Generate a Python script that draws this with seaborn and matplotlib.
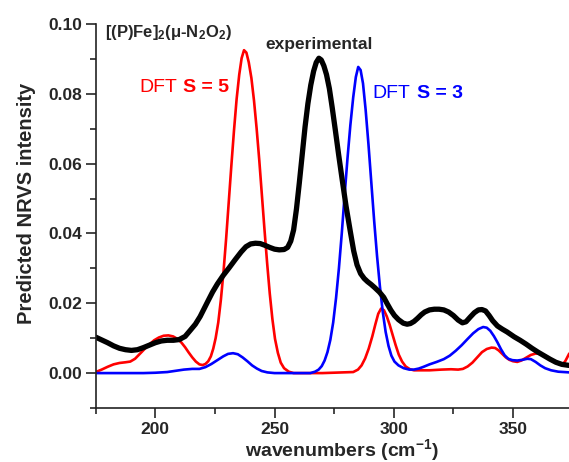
import numpy as np
import pandas as pd
import matplotlib
matplotlib.use("Agg")
import matplotlib.pyplot as plt
from matplotlib.ticker import MultipleLocator, FormatStrFormatter
import seaborn as sns

# ---- data ----
exp_x = [175, 177.5, 180, 182.5, 185, 187.5, 190, 192.5, 195, 197.5, 200, 202.5, 205,
         207.6, 210, 212.5, 214.6, 216.8, 218.8, 220.5, 222.2, 224, 226, 228.5, 231,
         233.5, 236, 238, 240, 242, 244, 246, 248, 250, 252, 254, 255.5, 256.8, 258,
         259.2, 260.4, 261.6, 262.8, 264, 265.2, 266.4, 267.5, 268.6, 269.6, 270.7, 271.8,
         273, 274.2, 275.5, 276.9, 278.4, 280, 281.8, 283.2, 284.6, 286.1, 287.6, 289,
         290.5, 292, 294, 295.8, 297.3, 298.8, 300.3, 302, 304, 305.6, 307, 308.5, 310,
         311.5, 313, 315, 317, 319, 321, 323, 325, 327, 328.8, 330.3, 332, 333.8, 335.5,
         337, 338.5, 340, 341.5, 343.5, 345.5, 347.5, 350.5, 353, 355.5, 358, 360.5, 363,
         365.5, 368, 370.5, 373.5]
exp_y = [0.0103, 0.0095, 0.0087, 0.0078, 0.0071, 0.0067, 0.0065, 0.0067, 0.0073, 0.0080,
         0.0087, 0.0092, 0.0094, 0.0094, 0.0096, 0.0105, 0.0122, 0.0140, 0.0162, 0.0185,
         0.0208, 0.0232, 0.0255, 0.0280, 0.0302, 0.0325, 0.0347, 0.0362, 0.0370, 0.0372,
         0.0371, 0.0366, 0.0360, 0.0355, 0.0353, 0.0354, 0.0360, 0.0378, 0.0410, 0.0470,
         0.0545, 0.0625, 0.0705, 0.0772, 0.0825, 0.0865, 0.0890, 0.0902, 0.0897, 0.0880,
         0.0855, 0.0815, 0.0760, 0.0696, 0.0625, 0.0553, 0.0478, 0.0405, 0.0350, 0.0310,
         0.0285, 0.0271, 0.0262, 0.0254, 0.0245, 0.0232, 0.0217, 0.0198, 0.0180, 0.0165,
         0.0153, 0.0143, 0.0140, 0.0142, 0.0148, 0.0157, 0.0167, 0.0175, 0.0181, 0.0183,
         0.0183, 0.0181, 0.0175, 0.0165, 0.0152, 0.0144, 0.0147, 0.0160, 0.0173, 0.0181,
         0.0182, 0.0178, 0.0165, 0.0150, 0.0135, 0.0126, 0.0118, 0.0104, 0.0094, 0.0083,
         0.0071, 0.0060, 0.0050, 0.0040, 0.0031, 0.0025, 0.0022]

s5_x = [175, 177.5, 180, 182.5, 185, 187.5, 189.5, 191.5, 193.5, 195.5, 197.5, 199.5,
        201.5, 203.5, 205.5, 207.5, 209.5, 211, 212.5, 214, 215.5, 217, 218.5, 219.8, 221,
        222.2, 223.3, 224.3, 225.3, 226.4, 227.5, 228.6, 229.7, 230.8, 231.9, 233, 234.1,
        235.2, 236.2, 237.2, 238.2, 239.2, 240.3, 241.4, 242.5, 243.6, 244.7, 245.8, 246.9,
        248, 249.1, 250.2, 251.4, 252.6, 254, 256, 258, 270, 283, 285, 286.5, 288, 289.5,
        291, 292.3, 293.5, 294.7, 295.9, 297.1, 298.3, 299.5, 300.8, 302.1, 303.5, 305,
        306.8, 308.5, 315, 320, 324, 327, 329, 331, 333, 335, 337, 339, 341, 342.5, 344,
        345.5, 347, 348.5, 350, 351.8, 353.5, 355.5, 357.5, 359.5, 361.5, 363.5, 365.5,
        367.5, 369.5, 370.8, 372, 373.6]
s5_y = [0.0003, 0.0010, 0.0018, 0.0025, 0.0029, 0.0031, 0.0033, 0.0041, 0.0055, 0.0069,
        0.0082, 0.0094, 0.0102, 0.0107, 0.0108, 0.0105, 0.0097, 0.0087, 0.0074, 0.0059,
        0.0045, 0.0033, 0.0025, 0.0023, 0.0026, 0.0034, 0.0048, 0.0070, 0.0100, 0.0145,
        0.0210, 0.0290, 0.0385, 0.0490, 0.0595, 0.0695, 0.0785, 0.0855, 0.0902, 0.0925,
        0.0918, 0.0890, 0.0845, 0.0780, 0.0700, 0.0610, 0.0510, 0.0410, 0.0315, 0.0228,
        0.0155, 0.0098, 0.0058, 0.0030, 0.0014, 0.0004, 0.0, 0.0, 0.0003, 0.0010, 0.0022,
        0.0042, 0.0070, 0.0105, 0.0140, 0.0170, 0.0185, 0.0180, 0.0162, 0.0138, 0.0110,
        0.0080, 0.0053, 0.0033, 0.0019, 0.0011, 0.0008, 0.0008, 0.0010, 0.0011, 0.0010,
        0.0012, 0.0019, 0.0030, 0.0045, 0.0060, 0.0069, 0.0073, 0.0072, 0.0065, 0.0055,
        0.0045, 0.0038, 0.0034, 0.0032, 0.0036, 0.0044, 0.0052, 0.0056, 0.0055, 0.0050,
        0.0042, 0.0032, 0.0025, 0.0024, 0.0035, 0.0056]

s3_x = [175, 195, 200, 205, 209, 212, 215.5, 218.5, 221, 223.5, 226, 228.5, 230.5, 232.6,
        234.6, 236.6, 238.6, 240.6, 242.6, 244.6, 247, 250, 265, 267, 268.5, 269.8, 271,
        272.2, 273.4, 274.6, 275.8, 277, 278.2, 279.4, 280.6, 281.8, 283, 284.1, 285.1,
        286.1, 287.1, 288.2, 289.4, 290.6, 291.8, 293, 294.2, 295.4, 296.6, 297.8, 299,
        300.3, 302, 304.2, 306.5, 308.4, 310.5, 312.5, 315, 318, 321, 323.5, 326, 328.5,
        331, 333.3, 335.5, 337.5, 339, 340.5, 342, 343.5, 345, 346.5, 348, 349.8, 351.8,
        354, 356, 357.5, 359.5, 361.5, 363.5, 366, 369, 373.6]
s3_y = [0.0, 0.0, 0.0001, 0.0003, 0.0007, 0.0010, 0.0012, 0.0012, 0.0017, 0.0026, 0.0037,
        0.0048, 0.0055, 0.0057, 0.0054, 0.0045, 0.0034, 0.0022, 0.0013, 0.0006, 0.0002,
        0.0, 0.0, 0.0004, 0.0010, 0.0020, 0.0036, 0.0060, 0.0095, 0.0145, 0.0215, 0.0300,
        0.0400, 0.0510, 0.0615, 0.0710, 0.0790, 0.0848, 0.0877, 0.0868, 0.0830, 0.0755,
        0.0655, 0.0545, 0.0435, 0.0335, 0.0248, 0.0175, 0.0118, 0.0078, 0.0050, 0.0033,
        0.0022, 0.0014, 0.0010, 0.0010, 0.0013, 0.0018, 0.0025, 0.0032, 0.0040, 0.0050,
        0.0064, 0.0080, 0.0098, 0.0114, 0.0126, 0.0132, 0.0130, 0.0121, 0.0106, 0.0088,
        0.0068, 0.0051, 0.0041, 0.0037, 0.0036, 0.0038, 0.0041, 0.0040, 0.0032, 0.0022,
        0.0014, 0.0008, 0.0004, 0.0002]

xticks = [200, 250, 300, 350]
yticks = [0.00, 0.02, 0.04, 0.06, 0.08, 0.10]

# ---- style ----
sns.set_style("ticks")
plt.rcParams['font.family'] = ['Liberation Sans', 'DejaVu Sans']
plt.rcParams['font.weight'] = 'bold'
plt.rcParams['mathtext.fontset'] = 'custom'
plt.rcParams['mathtext.rm'] = 'Liberation Sans:bold'
plt.rcParams['mathtext.bf'] = 'Liberation Sans:bold'
plt.rcParams['mathtext.it'] = 'Liberation Sans:bold'

W, H = 569, 462
fig = plt.figure(figsize=(W / 100, H / 100), dpi=100)
ax = fig.add_axes([95.7 / W, 1 - 408 / H, (W - 95.7) / W, (408 - 24) / H])

df_exp = pd.DataFrame({"x": exp_x, "y": exp_y})
df_s5 = pd.DataFrame({"x": s5_x, "y": s5_y})
df_s3 = pd.DataFrame({"x": s3_x, "y": s3_y})

kw = dict(sort=False, solid_joinstyle='round', solid_capstyle='round')
sns.lineplot(data=df_s5, x="x", y="y", ax=ax, color="#ff0000", linewidth=1.9, **kw)
sns.lineplot(data=df_s3, x="x", y="y", ax=ax, color="#0000ff", linewidth=1.9, **kw)
sns.lineplot(data=df_exp, x="x", y="y", ax=ax, color="black", linewidth=3.8, **kw)

ax.set_xlim(175, 373.5)
ax.set_ylim(-0.01, 0.10)
ax.set_xticks(xticks)
ax.set_yticks(yticks)
ax.xaxis.set_minor_locator(MultipleLocator(25))
ax.yaxis.set_minor_locator(MultipleLocator(0.01))
ax.yaxis.set_major_formatter(FormatStrFormatter('%.2f'))
ax.tick_params(which='major', length=7, width=1.2, labelsize=12.5, pad=3, direction='out')
ax.tick_params(which='minor', length=4.5, width=1.2, direction='out')
for lab in ax.get_xticklabels() + ax.get_yticklabels():
    lab.set_fontweight('bold')
for s in ['left', 'bottom']:
    ax.spines[s].set_linewidth(1.2)
    ax.spines[s].set_color('#222222')
sns.despine(ax=ax)

ax.set_xlabel(r"wavenumbers (cm$^{\mathbf{-1}}$)", fontsize=14, fontweight='bold')
ax.set_ylabel("Predicted NRVS intensity", fontsize=14.5, fontweight='bold')
ax.xaxis.set_label_coords((342 - 95.7) / (W - 95.7), (408 - 437) / 384)
ax.yaxis.set_label_coords((36 - 95.7) / (W - 95.7), (408 - 203) / 384)

# annotations (figure pixel positions)
def fx(px):
    return px / W

def fy(py):
    return 1 - py / H

fig.text(fx(105), fy(33), r"[(P)Fe]$_{2}$($\mu$-N$_{2}$O$_{2}$)", fontsize=12,
         fontweight='bold', va='center', ha='left')
fig.text(fx(265), fy(45), "experimental", fontsize=12.5, fontweight='bold', va='center', ha='left')
fig.text(fx(139), fy(88), "DFT", fontsize=14, fontweight='normal', color='#ff0000',
         va='center', ha='left')
fig.text(fx(183), fy(88), "S = 5", fontsize=14, fontweight='bold', color='#ff0000',
         va='center', ha='left')
fig.text(fx(372), fy(94), "DFT", fontsize=14, fontweight='normal', color='#0000ff',
         va='center', ha='left')
fig.text(fx(417), fy(94), "S = 3", fontsize=14, fontweight='bold', color='#0000ff',
         va='center', ha='left')

fig.savefig("out.png", dpi=100)
